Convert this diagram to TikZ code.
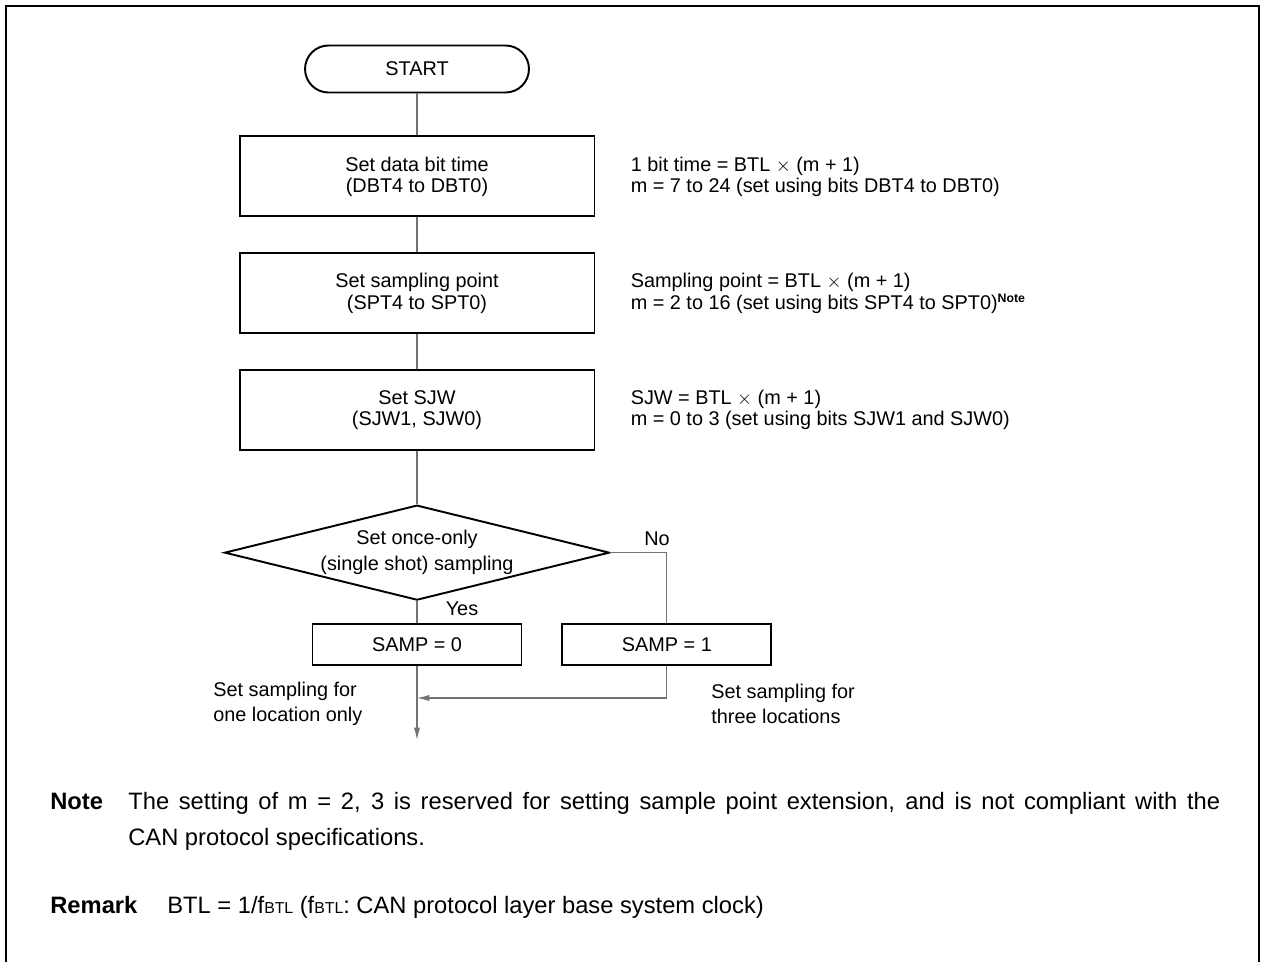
\documentclass[tikz,border=0pt]{standalone}
\usepackage{fontspec}
\setmainfont{Liberation Sans}
\usetikzlibrary{positioning,shapes.geometric,arrows.meta}

\begin{document}
\begin{tikzpicture}[
            x=0.02cm, y=-0.02cm,
            font=\fontsize{11.3}{12}\selectfont,
            box/.style={rectangle, draw, line width=1.1pt, minimum width=7.1cm,
                       minimum height=1.6cm, align=center},
            term/.style={rectangle, draw, line width=1.1pt, rounded corners=0.47cm,
                       minimum width=4.48cm, minimum height=0.94cm},
            decision/.style={diamond, draw, line width=1.1pt, aspect=4, inner sep=0pt,
                       minimum width=7.7cm, minimum height=1.9cm, align=center,
                       font=\fontsize{11.3}{15}\selectfont},
            sampbox/.style={rectangle, draw, line width=1.1pt, minimum width=4.18cm,
                       minimum height=0.82cm},
            line/.style={draw=black!55, line width=0.6pt},
            arrow/.style={line, -{Latex[length=7pt,width=3.5pt]}},
            side/.style={inner sep=0pt, align=left},
            body/.style={inner sep=0pt, anchor=base west, font=\fontsize{13.5}{21}\selectfont}
        ]
            \useasboundingbox (0,0) rectangle (1261,961);
            \draw[line width=1.2pt] (6,6) rectangle (1259,1000);

            % Main flow
            \node[term] (start) at (417,69) {START};
            \node[box, below=0.84cm of start] (dbt) {Set data bit time\\(DBT4 to DBT0)};
            \node[box, below=0.7cm of dbt] (spt) {Set sampling point\\(SPT4 to SPT0)};
            \node[box, below=0.7cm of spt] (sjw) {Set SJW\\(SJW1, SJW0)};
            \node[decision, below=1.06cm of sjw] (once) {Set once-only\\(single shot) sampling};
            \node[sampbox, below=0.44cm of once] (samp0) {SAMP = 0};
            \node[sampbox, right=0.78cm of samp0] (samp1) {SAMP = 1};
            \coordinate (join) at (417,698);
            \coordinate (end) at (417,740);

            % Connectors
            \draw[line] (start) -- (dbt);
            \draw[line] (dbt) -- (spt);
            \draw[line] (spt) -- (sjw);
            \draw[line] (sjw) -- (once);
            \draw[line] (once) -- (samp0);
            \draw[line] (once.east) -| (samp1.north);
            \draw[arrow] (samp0) -- (end);
            \draw[arrow] (samp1.south) |- (join);

            % Branch labels
            \node (no) at (657,539) {No};
            \node (yes) at (462,609) {Yes};
            \node[side, anchor=west, font=\fontsize{11.3}{14}\selectfont] (onelbl) at (213,704)
                {Set sampling for\\one location only};
            \node[side, anchor=west, font=\fontsize{11.3}{14}\selectfont] (threelbl) at (711,704)
                {Set sampling for\\three locations};

            % Side notes
            \node[side, right=0.7cm of dbt] (dbtnote)
                {1 bit time = BTL $\times$ (m + 1)\\m = 7 to 24 (set using bits DBT4 to DBT0)};
            \node[side, right=0.7cm of spt] (sptnote)
                {Sampling point = BTL $\times$ (m + 1)\\m = 2 to 16 (set using bits SPT4 to SPT0)\textsuperscript{\fontsize{7}{7}\selectfont\textbf{Note}}};
            \node[side, right=0.7cm of sjw] (sjwnote)
                {SJW = BTL $\times$ (m + 1)\\m = 0 to 3 (set using bits SJW1 and SJW0)};

            % Note and remark
            \node[body] (notehead) at (50,809) {\textbf{Note}};
            \node[body, text width=21.84cm, align=justify] (notetext) at (128,809)
                {The setting of m = 2, 3 is reserved for setting sample point extension, and is not compliant with the\linebreak CAN protocol specifications.};
            \node[body] (remhead) at (50,913) {\textbf{Remark}};
            \node[body] (remtext) at (167,913)
                {BTL = 1/f{\fontsize{9}{9}\selectfont BTL} (f{\fontsize{9}{9}\selectfont BTL}: CAN protocol layer base system clock)};
        \end{tikzpicture}
\end{document}
